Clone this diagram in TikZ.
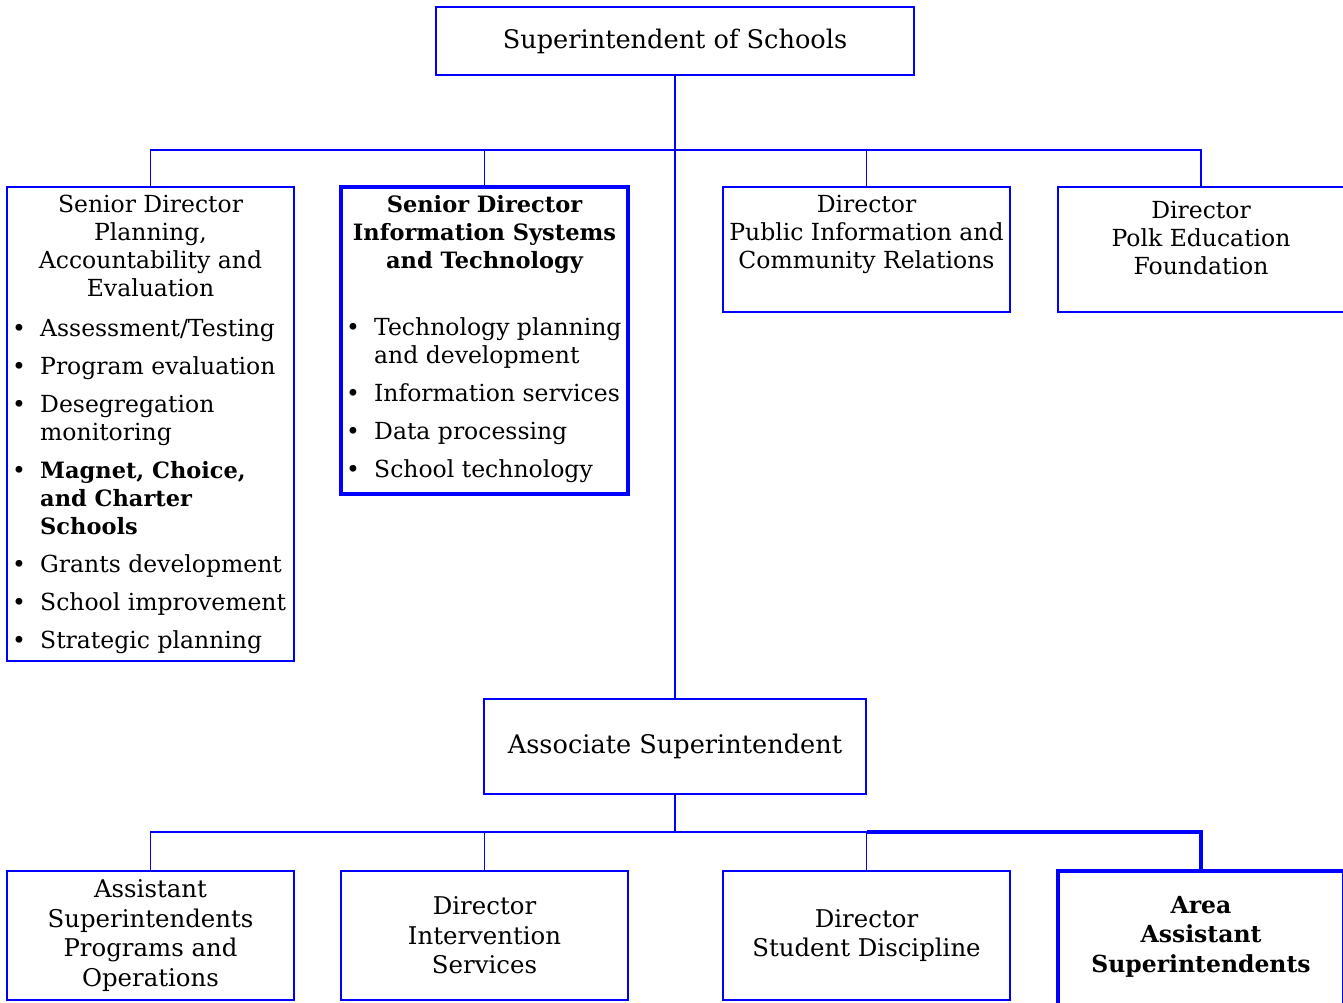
\documentclass[tikz,border=0pt]{standalone}
\usepackage{fontspec}
\setmainfont{DejaVu Serif}
\definecolor{orgblue}{RGB}{0,0,255}
\newcommand{\bul}{\makebox[28pt][l]{\textbullet}}
\newcommand{\cont}{\hspace*{28pt}}
\newcommand{\fbig}{\fontsize{25.6}{30}\selectfont}
\newcommand{\fmid}{\fontsize{23.5}{28}\selectfont}
\newcommand{\fmidbf}{\fontsize{22.5}{28}\selectfont\bfseries}
\newcommand{\flow}{\fontsize{24.4}{29.5}\selectfont}
\newcommand{\flowbf}{\fontsize{23.5}{29.5}\selectfont\bfseries}
\begin{document}
\begin{tikzpicture}[x=1pt,y=-1pt,
  box/.style={draw=orgblue, line width=1.7pt, inner sep=0pt, align=center, font=\flow},
  heavy/.style={line width=3.6pt},
  wire/.style={draw=orgblue, line width=1.7pt},
  lbl/.style={inner sep=0pt, align=center, font=\fmid},
  lst/.style={inner sep=0pt, align=left, font=\fmid},
]
\useasboundingbox (0,0) rectangle (1343,1002);
\clip (0,0) rectangle (1343,1002);

% top level
\node[box, font=\fbig, minimum width=478, minimum height=68] (sup) at (675,41) {Superintendent of Schools};

% first row of boxes
\node[box, minimum width=287, minimum height=474] (pae) at (150.5,424) {};
\node[box, heavy, minimum width=287, minimum height=307] (ist) at (484.5,340.5) {};
\node[box, minimum width=287, minimum height=125] (pic) at (866.5,249.5) {};
\node[box, minimum width=286, minimum height=125] (pef) at (1201,249.5) {};

\node[lbl, anchor=north] (paeh) at (pae.north |- 0,195)
  {Senior Director\\Planning,\\Accountability and\\Evaluation};
\node[lst, anchor=north west] (pael) at (12,319)
  {\bul Assessment/Testing\\[10pt]
   \bul Program evaluation\\[10pt]
   \bul Desegregation\\\cont monitoring\\[10pt]
   \bul\textbf{\fmidbf Magnet, Choice,}\\\cont\textbf{\fmidbf and Charter}\\\cont\textbf{\fmidbf Schools}\\[10pt]
   \bul Grants development\\[10pt]
   \bul School improvement\\[10pt]
   \bul Strategic planning};

\node[lbl, anchor=north, font=\fmidbf] (isth) at (ist.north |- 0,195)
  {Senior Director\\Information Systems\\and Technology};
\node[lst, anchor=north west] (istl) at (346,317.5)
  {\bul Technology planning\\\cont and development\\[10pt]
   \bul Information services\\[10pt]
   \bul Data processing\\[10pt]
   \bul School technology};

\node[lbl, anchor=north] (pich) at (pic.north |- 0,195)
  {Director\\Public Information and\\Community Relations};
\node[lbl, anchor=north] (pefh) at (pef.north |- 0,201)
  {Director\\Polk Education\\Foundation};

% associate level
\node[box, font=\fbig, minimum width=382, minimum height=95] (asc) at (675,746.5) {Associate Superintendent};

% second row of boxes
\node[box, minimum width=287, minimum height=129] (apo) at (150.5,935.5)
  {Assistant\\Superintendents\\Programs and\\Operations};
\node[box, minimum width=287, minimum height=129] (dis) at (484.5,935.5)
  {Director\\Intervention\\Services};
\node[box, minimum width=287, minimum height=129] (dsd) at (866.5,935.5)
  {Director\\Student Discipline};
\node[box, heavy, minimum width=286, minimum height=160] (aas) at (1201,951) {};
\node[lbl, font=\flowbf] (aash) at (1201,936.5)
  {Area\\Assistant\\Superintendents};

% connectors
\coordinate (hubA) at (675,150);
\coordinate (hubB) at (675,832);
\draw[wire] (sup.south) -- (asc.north);
\draw[wire] (pae.north) |- (hubA) -| (pef.north);
\draw[wire] (ist.north) -- (ist.north |- hubA);
\draw[wire] (pic.north) -- (pic.north |- hubA);
\draw[wire] (asc.south) -- (hubB);
\draw[wire] (apo.north) |- (hubB) -| (dsd.north);
\draw[wire] (dis.north) -- (dis.north |- hubB);
\draw[wire, heavy] (dsd.north |- hubB) -| (aas.north);
\end{tikzpicture}
\end{document}
